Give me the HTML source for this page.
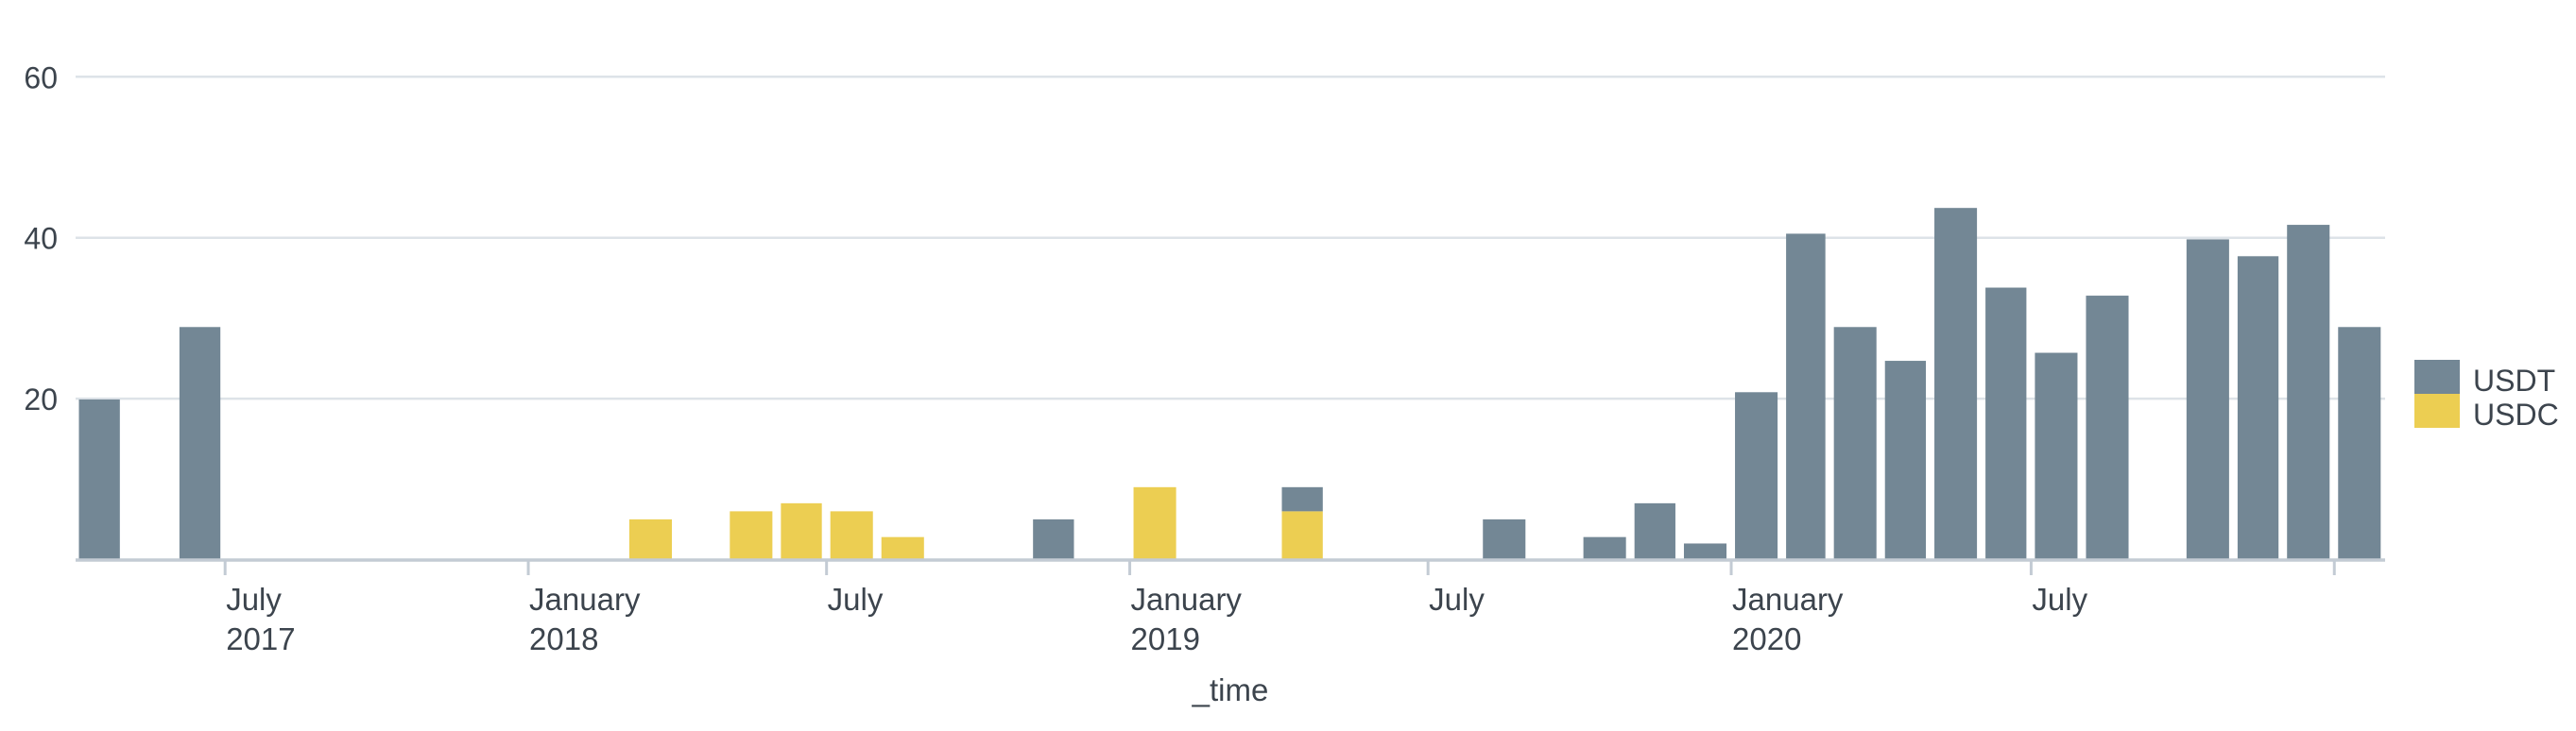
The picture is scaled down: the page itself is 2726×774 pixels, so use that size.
<!DOCTYPE html>
<html><head><meta charset="utf-8"><style>
html,body{margin:0;padding:0;background:#fff;}
svg{display:block;}
text{font-family:"Liberation Sans",sans-serif;fill:#3c444d;}
</style></head><body>
<svg id="s" width="2726" height="774" viewBox="0 0 2726 774" xmlns="http://www.w3.org/2000/svg">
<g id="grid"></g><g id="bars"></g><g id="axis"></g>
<text x="2617" y="414" font-size="32">USDT</text>
<text x="2617" y="450" font-size="32">USDC</text>
<rect x="2555" y="381" width="48" height="36" fill="#738795"/>
<rect x="2555" y="417" width="48" height="36" fill="#ecce52"/>
<text x="1302" y="742" font-size="33" text-anchor="middle">_time</text>
</svg>
<script>
var NS="http://www.w3.org/2000/svg";
function el(p,t,a,txt){var e=document.createElementNS(NS,t);for(var k in a)e.setAttribute(k,a[k]);if(txt)e.textContent=txt;document.getElementById(p).appendChild(e);return e;}
var L=80,R=2524,Y0=592.5,PU=8.52;
var base=Date.UTC(2017,6,1);
function X(y,m){return 238.2+(Date.UTC(y,m,1)-base)/864e5*1.7438;}
[20,40,60].forEach(function(v){var y=Y0-v*PU;el('grid','line',{x1:L,x2:R,y1:y,y2:y,stroke:'#dde3e8','stroke-width':2.5});el('grid','text',{x:61,y:y+12,'font-size':32,'text-anchor':'end'},String(v));});
var d=[[2017,3,19.9,0],[2017,5,28.9,0],[2018,2,0,5],[2018,4,0,6],[2018,5,0,7],[2018,6,0,6],[2018,7,0,2.8],[2018,10,5,0],[2019,0,0,9],[2019,3,3,6],[2019,7,5,0],[2019,9,2.8,0],[2019,10,7,0],[2019,11,2,0],
[2020,0,20.8,0],[2020,1,40.5,0],[2020,2,28.9,0],[2020,3,24.7,0],[2020,4,43.7,0],[2020,5,33.8,0],[2020,6,25.7,0],[2020,7,32.8,0],[2020,9,39.8,0],[2020,10,37.7,0],[2020,11,41.6,0],[2021,0,28.9,0]];
d.forEach(function(r){var x0=X(r[0],r[1])+4,x1=X(r[0],r[1]+1)-5;if(x1>R)x1=R-1;
 var yc=Y0-r[3]*PU;
 if(r[3]>0)el('bars','rect',{x:x0,y:yc,width:x1-x0,height:Y0-yc,fill:'#ecce52'});
 if(r[2]>0){var yt=yc-r[2]*PU;el('bars','rect',{x:x0,y:yt,width:x1-x0,height:yc-yt,fill:'#738795'});}
});
el('axis','line',{x1:L,x2:R,y1:Y0+0.5,y2:Y0+0.5,stroke:'#c3cbd4','stroke-width':3.5});
var t=[[2017,6,'July','2017'],[2018,0,'January','2018'],[2018,6,'July',''],[2019,0,'January','2019'],[2019,6,'July',''],[2020,0,'January','2020'],[2020,6,'July',''],[2021,0,'','']];
t.forEach(function(a){var x=X(a[0],a[1]);el('axis','line',{x1:x,x2:x,y1:Y0,y2:609,stroke:'#c3cbd4','stroke-width':3});
 if(a[2])el('axis','text',{x:x+1,y:646,'font-size':33},a[2]);
 if(a[3])el('axis','text',{x:x+1,y:688,'font-size':33},a[3]);});
</script>
</body></html>
